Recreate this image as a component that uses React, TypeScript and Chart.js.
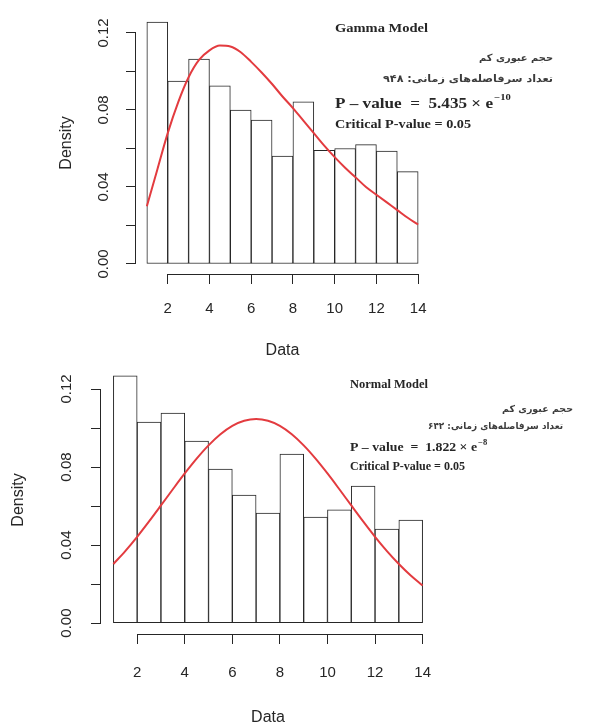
import React, { useEffect, useRef } from 'react';
import { Chart, registerables } from 'chart.js';

Chart.register(...registerables);

// ---------- data ----------
const BIN_CENTERS = [1.5, 2.5, 3.5, 4.5, 5.5, 6.5, 7.5, 8.5, 9.5, 10.5, 11.5, 12.5, 13.5];
const GAMMA_HIST = [0.1257, 0.095, 0.1065, 0.0925, 0.08, 0.0748, 0.056, 0.0842, 0.059, 0.06, 0.062, 0.0587, 0.048];
const NORMAL_HIST = [0.1267, 0.103, 0.1077, 0.0933, 0.079, 0.0656, 0.0564, 0.0867, 0.0544, 0.058, 0.0703, 0.0482, 0.0528];

const CURVE_X = [1, 1.5, 2, 2.5, 3, 3.5, 4, 4.5, 5, 5.5, 6, 6.5, 7, 7.5, 8, 8.5, 9, 9.5, 10, 10.5, 11, 11.5, 12, 12.5, 13, 13.5, 14];
const GAMMA_FIT = [0.030, 0.049, 0.068, 0.084, 0.097, 0.106, 0.111, 0.1135, 0.113, 0.110, 0.105, 0.0995, 0.0935, 0.087, 0.081, 0.0745, 0.068, 0.0615, 0.0555, 0.050, 0.045, 0.040, 0.036, 0.032, 0.028, 0.024, 0.0205];
const NORMAL_FIT = [0.0303, 0.0369, 0.0442, 0.0521, 0.0603, 0.0686, 0.0767, 0.0843, 0.0911, 0.0968, 0.1011, 0.1037, 0.1046, 0.1037, 0.1011, 0.0968, 0.0911, 0.0843, 0.0767, 0.0686, 0.0603, 0.0521, 0.0442, 0.0369, 0.0303, 0.0244, 0.0193];

const X_TICKS = [2, 4, 6, 8, 10, 12, 14];
const Y_TICKS = [0, 0.02, 0.04, 0.06, 0.08, 0.1, 0.12];
const Y_TICK_LABELS = ['0.00', '', '0.04', '', '0.08', '', '0.12'];
const X_TITLE = 'Data';
const Y_TITLE = 'Density';

const GAMMA_TEXTS = ['Gamma Model', 'حجم عبوری کم', 'تعداد سرفاصله\u200cهای زمانی: ۹۴۸', 'P – value  =  5.435 × e', '−10', 'Critical P-value = 0.05'];
const NORMAL_TEXTS = ['Normal Model', 'حجم عبوری کم', 'تعداد سرفاصله\u200cهای زمانی: ۶۴۲', 'P – value  =  1.822 × e', '−8', 'Critical P-value = 0.05'];

// ---------- style ----------
const INK = '#262626';
const RED = '#e33b3f';
const SANS = '"Liberation Sans", Arial, sans-serif';
const SERIF = '"Liberation Serif", "Times New Roman", serif';
const FARSI = '"DejaVu Sans", sans-serif';

type Note = { text: string; x: number; y: number; w: number; size: number; align: 'left' | 'right'; kind: 'serif' | 'farsi'; sup?: string };

type Panel = {
  top: number;
  height: number;
  hist: number[];
  fit: number[];
  yMin: number;
  yMax: number;
  padLeft: number;
  padRight: number;
  padTop: number;
  yAxisWidth: number;
  xAxisHeight: number;
  yLabelX: number;
  yTitlePad: number;
  xTickPad: number;
  xTitlePad: number;
  notes: Note[];
};

function makePlugin(p: Panel) {
  return {
    id: 'rStyle',
    afterDraw(chart: any) {
      const ctx: CanvasRenderingContext2D = chart.ctx;
      const xs = chart.scales.x;
      const ys = chart.scales.y;
      const ca = chart.chartArea;
      ctx.save();
      ctx.strokeStyle = INK;
      ctx.lineWidth = 1;
      // R-style axis lines from first to last tick
      ctx.beginPath();
      const by = Math.round(ca.bottom) + 0.5;
      ctx.moveTo(xs.getPixelForValue(X_TICKS[0]), by);
      ctx.lineTo(xs.getPixelForValue(X_TICKS[X_TICKS.length - 1]), by);
      const lx = Math.round(ca.left) - 0.5;
      ctx.moveTo(lx, ys.getPixelForValue(Y_TICKS[0]));
      ctx.lineTo(lx, ys.getPixelForValue(Y_TICKS[Y_TICKS.length - 1]));
      ctx.stroke();

      // y tick labels, parallel to the axis
      ctx.fillStyle = INK;
      ctx.font = `15px ${SANS}`;
      ctx.textAlign = 'center';
      ctx.textBaseline = 'middle';
      Y_TICKS.forEach((v, i) => {
        const lab = Y_TICK_LABELS[i];
        if (!lab) return;
        ctx.save();
        ctx.translate(p.yLabelX, ys.getPixelForValue(v));
        ctx.rotate(-Math.PI / 2);
        ctx.fillText(lab, 0, 0);
        ctx.restore();
      });

      // annotations (font size from letter height, stretched to the measured width)
      p.notes.forEach((n) => {
        const fam = n.kind === 'serif' ? SERIF : FARSI;
        ctx.save();
        ctx.font = `bold ${n.size}px ${fam}`;
        ctx.direction = n.kind === 'farsi' ? 'rtl' : 'ltr';
        const mw = ctx.measureText(n.text).width;
        const sx = n.w / mw;
        ctx.translate(n.x, n.y);
        ctx.scale(sx, 1);
        ctx.textAlign = n.align;
        ctx.textBaseline = 'middle';
        ctx.fillStyle = n.kind === 'farsi' ? '#3c3c3c' : INK;
        ctx.fillText(n.text, 0, 0);
        if (n.sup) {
          ctx.direction = 'ltr';
          ctx.textAlign = 'left';
          ctx.font = `bold ${n.size * 0.62}px ${fam}`;
          ctx.fillText(n.sup, mw + 1, -n.size * 0.42);
        }
        ctx.restore();
      });
      ctx.restore();
    },
  };
}

function RPanel({ p }: { p: Panel }) {
  const ref = useRef<HTMLCanvasElement>(null);
  useEffect(() => {
    if (!ref.current) return;
    const chart = new Chart(ref.current, {
      type: 'bar',
      data: {
        datasets: [
          {
            type: 'line',
            data: CURVE_X.map((x, i) => ({ x, y: p.fit[i] })),
            borderColor: RED,
            borderWidth: 2,
            pointRadius: 0,
            cubicInterpolationMode: 'monotone',
            order: 0,
          } as any,
          {
            type: 'bar',
            data: BIN_CENTERS.map((x, i) => ({ x, y: p.hist[i] })),
            backgroundColor: '#ffffff',
            borderColor: INK,
            borderWidth: 1,
            borderSkipped: false,
            barPercentage: 1,
            categoryPercentage: 1,
            order: 1,
          } as any,
        ],
      },
      options: {
        animation: false,
        responsive: false,
        maintainAspectRatio: false,
        events: [],
        layout: { padding: { left: p.padLeft, right: p.padRight, top: p.padTop, bottom: 0 } },
        plugins: { legend: { display: false }, tooltip: { enabled: false }, title: { display: false } },
        scales: {
          x: {
            type: 'linear',
            min: 0.48,
            max: 14.52,
            offset: false,
            afterBuildTicks: (s: any) => {
              s.ticks = X_TICKS.map((v) => ({ value: v }));
            },
            afterFit: (s: any) => {
              s.height = p.xAxisHeight;
            },
            grid: { display: true, drawOnChartArea: false, drawTicks: true, tickLength: 10, color: INK, lineWidth: 1, offset: false },
            border: { display: false },
            ticks: { autoSkip: false, maxRotation: 0, minRotation: 0, padding: p.xTickPad, color: INK, font: { family: SANS, size: 15 } },
            title: { display: true, text: X_TITLE, color: INK, font: { family: SANS, size: 16 }, padding: { top: 0, bottom: p.xTitlePad } },
          },
          y: {
            type: 'linear',
            min: p.yMin,
            max: p.yMax,
            afterBuildTicks: (s: any) => {
              s.ticks = Y_TICKS.map((v) => ({ value: v }));
            },
            afterFit: (s: any) => {
              s.width = p.yAxisWidth;
            },
            grid: { display: true, drawOnChartArea: false, drawTicks: true, tickLength: 10, color: INK, lineWidth: 1 },
            border: { display: false },
            ticks: { display: false },
            title: { display: true, text: Y_TITLE, color: INK, font: { family: SANS, size: 16 }, padding: { top: p.yTitlePad, bottom: 0 } },
          },
        },
      } as any,
      plugins: [makePlugin(p)],
    });
    return () => chart.destroy();
  }, []);
  return (
    <canvas
      ref={ref}
      width={603}
      height={p.height}
      style={{ position: 'absolute', left: 0, top: p.top, width: 603, height: p.height }}
    />
  );
}

const TOP_PANEL: Panel = {
  top: 0,
  height: 365,
  hist: GAMMA_HIST,
  fit: GAMMA_FIT,
  yMin: -0.0052,
  yMax: 0.1309,
  padLeft: 0,
  padRight: 174,
  padTop: 12,
  yAxisWidth: 136,
  xAxisHeight: 91,
  yLabelX: 104,
  yTitlePad: 57,
  xTickPad: 16,
  xTitlePad: 5,
  notes: [
    { text: GAMMA_TEXTS[0], x: 335, y: 29, w: 93, size: 13, align: 'left', kind: 'serif' },
    { text: GAMMA_TEXTS[1], x: 553, y: 58, w: 74, size: 10, align: 'right', kind: 'farsi' },
    { text: GAMMA_TEXTS[2], x: 553, y: 79, w: 170, size: 10, align: 'right', kind: 'farsi' },
    { text: GAMMA_TEXTS[3], x: 335, y: 104, w: 158, size: 14, align: 'left', kind: 'serif', sup: GAMMA_TEXTS[4] },
    { text: GAMMA_TEXTS[5], x: 335, y: 125, w: 136, size: 13, align: 'left', kind: 'serif' },
  ],
};

const BOTTOM_PANEL: Panel = {
  top: 355,
  height: 372,
  hist: NORMAL_HIST,
  fit: NORMAL_FIT,
  yMin: -0.0056,
  yMax: 0.1318,
  padLeft: 0,
  padRight: 168,
  padTop: 11,
  yAxisWidth: 101,
  xAxisHeight: 93,
  yLabelX: 67,
  yTitlePad: 9,
  xTickPad: 20,
  xTitlePad: 0,
  notes: [
    { text: NORMAL_TEXTS[0], x: 350, y: 30, w: 78, size: 12, align: 'left', kind: 'serif' },
    { text: NORMAL_TEXTS[1], x: 573, y: 55, w: 71, size: 9.5, align: 'right', kind: 'farsi' },
    { text: NORMAL_TEXTS[2], x: 563, y: 72, w: 135, size: 9.5, align: 'right', kind: 'farsi' },
    { text: NORMAL_TEXTS[3], x: 350, y: 93, w: 127, size: 13, align: 'left', kind: 'serif', sup: NORMAL_TEXTS[4] },
    { text: NORMAL_TEXTS[5], x: 350, y: 112, w: 115, size: 12, align: 'left', kind: 'serif' },
  ],
};

export default function App() {
  return (
    <div style={{ position: 'fixed', left: 0, top: 0, width: 603, height: 727, background: '#ffffff', overflow: 'hidden' }}>
      <RPanel p={TOP_PANEL} />
      <RPanel p={BOTTOM_PANEL} />
    </div>
  );
}
